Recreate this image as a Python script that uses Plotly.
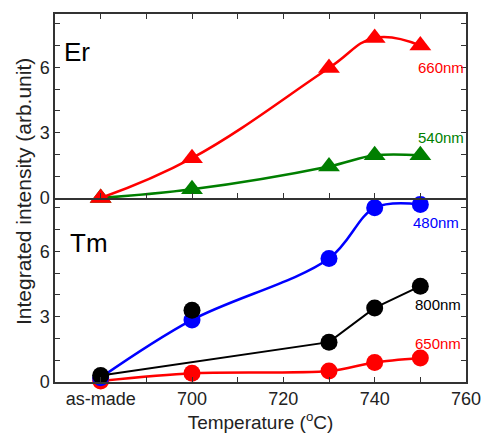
import plotly.graph_objects as go

# Data
temps = [680, 700, 730, 740, 750]
er_660 = [0.0, 1.83, 5.97, 7.35, 7.0]
er_540 = [0.0, 0.4, 1.45, 1.96, 1.96]
tm_480 = [0.2, 2.85, 5.67, 8.0, 8.15]
tm_800 = [0.3, 3.3, 1.83, 3.4, 4.4]
tm_800_line_temps = [680, 730, 740, 750]
tm_800_line = [0.3, 1.83, 3.4, 4.4]
tm_650 = [0.05, 0.4, 0.5, 0.9, 1.1]

x_tickvals = [680, 700, 720, 740, 760]
x_ticktext = ["as-made", "700", "720", "740", "760"]
x_minorvals = [690, 710, 730, 750]
y_tickvals = [0, 3, 6]
y_ticktext = ["0", "3", "6"]
y_minorvals = [1, 2, 4, 5, 7, 8]

RED = "#ff0000"
GREEN = "#007f00"
BLUE = "#0000ff"
BLACK = "#000000"
FONT = "Liberation Sans, Arial, sans-serif"

fig = go.Figure()

# Top panel (Er)
fig.add_trace(go.Scatter(x=temps, y=er_540, xaxis="x2", yaxis="y2", mode="lines+markers",
                         line=dict(color=GREEN, width=2.5, shape="spline", smoothing=1),
                         marker=dict(symbol="triangle-up", size=19, color=GREEN),
                         cliponaxis=False, showlegend=False))
fig.add_trace(go.Scatter(x=temps, y=er_660, xaxis="x2", yaxis="y2", mode="lines+markers",
                         line=dict(color=RED, width=2.5, shape="spline", smoothing=1.2),
                         marker=dict(symbol="triangle-up", size=19, color=RED),
                         cliponaxis=False, showlegend=False))

# Bottom panel (Tm)
fig.add_trace(go.Scatter(x=temps, y=tm_650, mode="lines+markers",
                         line=dict(color=RED, width=2.5, shape="spline", smoothing=0.8),
                         marker=dict(symbol="circle", size=17, color=RED),
                         cliponaxis=False, showlegend=False))
fig.add_trace(go.Scatter(x=temps, y=tm_480, mode="lines+markers",
                         line=dict(color=BLUE, width=2.5, shape="spline", smoothing=1),
                         marker=dict(symbol="circle", size=17, color=BLUE),
                         cliponaxis=False, showlegend=False))
fig.add_trace(go.Scatter(x=tm_800_line_temps, y=tm_800_line, mode="lines",
                         line=dict(color=BLACK, width=2),
                         cliponaxis=False, showlegend=False))
fig.add_trace(go.Scatter(x=temps, y=tm_800, mode="markers",
                         marker=dict(symbol="circle", size=17, color=BLACK),
                         cliponaxis=False, showlegend=False))

axis_common = dict(showline=True, linecolor="#333333", linewidth=1.5, ticks="inside",
                   ticklen=5, tickcolor="#333333", tickwidth=1.2, showgrid=False,
                   zeroline=False, tickfont=dict(family=FONT, size=18, color="#222222"))
x_minor = dict(tickvals=x_minorvals, ticks="inside", ticklen=5, tickcolor="#333333",
               tickwidth=1.2, showgrid=False)
y_minor = dict(tickvals=y_minorvals, ticks="inside", ticklen=5, tickcolor="#333333",
               tickwidth=1.2, showgrid=False)

plot_w = 493 - 55 - 16
plot_h = 439 - 13 - 48

fig.update_layout(
    width=493, height=439,
    margin=dict(l=55, r=16, t=13, b=48),
    plot_bgcolor="white", paper_bgcolor="white",
    xaxis=dict(domain=[0, 1], range=[670, 760], anchor="y",
               tickvals=x_tickvals, ticktext=x_ticktext, minor=x_minor,
               title=dict(text="Temperature (<sup>o</sup>C)", font=dict(family=FONT, size=19, color="#222222"),
                          standoff=4),
               **axis_common),
    xaxis2=dict(domain=[0, 1], range=[670, 760], anchor="y2", matches="x",
                tickvals=x_tickvals, showticklabels=False, mirror="ticks", minor=x_minor,
                **axis_common),
    yaxis=dict(domain=[0, 0.5], range=[0, 8.45], anchor="x",
               tickvals=y_tickvals, ticktext=y_ticktext, mirror="ticks", minor=y_minor,
               **axis_common),
    yaxis2=dict(domain=[0.5, 1], range=[0, 8.45], anchor="x2",
                tickvals=y_tickvals, ticktext=y_ticktext, mirror="ticks", minor=y_minor,
                **axis_common),
    annotations=[
        dict(text="Er", x=674.9, y=6.7, xref="x2", yref="y2", showarrow=False,
             font=dict(family=FONT, size=26, color=BLACK)),
        dict(text="Tm", x=677.5, y=6.38, xref="x", yref="y", showarrow=False,
             font=dict(family=FONT, size=26, color=BLACK)),
        dict(text="660nm", x=754.6, y=5.98, xref="x2", yref="y2", showarrow=False,
             font=dict(family=FONT, size=15, color=RED)),
        dict(text="540nm", x=754.6, y=2.77, xref="x2", yref="y2", showarrow=False,
             font=dict(family=FONT, size=15, color=GREEN)),
        dict(text="480nm", x=753.4, y=7.32, xref="x", yref="y", showarrow=False,
             font=dict(family=FONT, size=15, color=BLUE)),
        dict(text="800nm", x=753.8, y=3.57, xref="x", yref="y", showarrow=False,
             font=dict(family=FONT, size=15, color=BLACK)),
        dict(text="650nm", x=753.8, y=1.79, xref="x", yref="y", showarrow=False,
             font=dict(family=FONT, size=15, color=RED)),
        dict(text="Integrated intensity (arb.unit)",
             x=(22 - 55) / plot_w, y=(439 - 48 - 195) / plot_h,
             xref="paper", yref="paper", xanchor="center", yanchor="middle",
             showarrow=False, textangle=-90,
             font=dict(family=FONT, size=21, color="#222222")),
    ],
)

fig.write_html("out.html")
